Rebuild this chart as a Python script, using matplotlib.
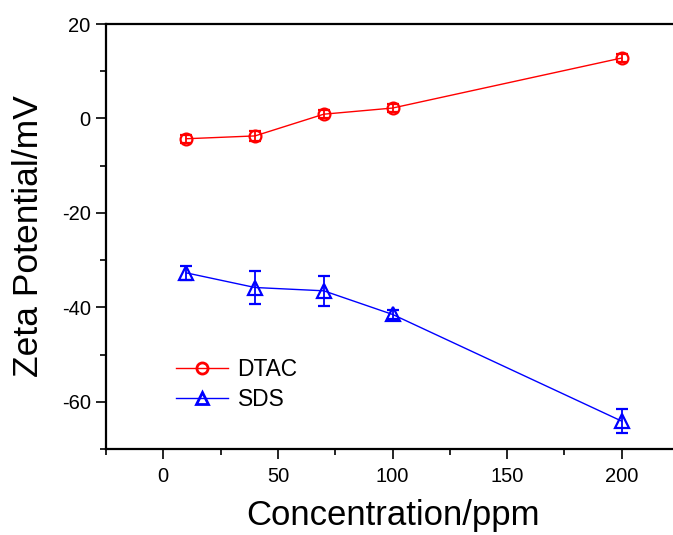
import numpy as np
import matplotlib
matplotlib.use("Agg")
import matplotlib.pyplot as plt
from matplotlib.ticker import MultipleLocator
from matplotlib.lines import Line2D

plt.rcParams['font.family'] = ['Liberation Sans', 'DejaVu Sans']
plt.rcParams['axes.unicode_minus'] = False

conc = [10, 40, 70, 100, 200]
dtac = [-4.3, -3.7, 0.9, 2.2, 12.8]
dtac_err = [0.9, 1.0, 0.9, 0.9, 0.9]
sds = [-32.7, -35.8, -36.5, -41.5, -64.1]
sds_err = [1.5, 3.5, 3.2, 1.0, 2.5]

fig = plt.figure(figsize=(6.73, 5.35), dpi=100)
ax = fig.add_axes([106/673, 1-449/535, 573/673, 425/535])

ax.errorbar(conc, dtac, yerr=dtac_err, color='red', marker='o', ms=8.5,
            mfc='none', mew=1.6, lw=1, elinewidth=1.3, capsize=4, capthick=1.3)
ax.errorbar(conc, sds, yerr=sds_err, color='blue', marker='^', ms=10,
            mfc='none', mew=1.6, lw=1, elinewidth=1.3, capsize=4, capthick=1.3)

ax.set_xlim(-25, 225)
ax.set_ylim(-70, 20)
ax.xaxis.set_major_locator(MultipleLocator(50))
ax.xaxis.set_minor_locator(MultipleLocator(25))
ax.yaxis.set_major_locator(MultipleLocator(20))
ax.yaxis.set_minor_locator(MultipleLocator(10))
ax.tick_params(which='both', direction='out', width=1.2, top=False, right=False)
ax.tick_params(which='major', length=7, labelsize=14.5)
ax.tick_params(axis='x', which='major', pad=6)
ax.tick_params(axis='y', which='major', pad=4)
ax.tick_params(which='minor', length=4)
for s in ax.spines.values():
    s.set_linewidth(1.6)

ax.set_xlabel('Concentration/ppm', fontsize=25, labelpad=9)
ax.set_ylabel('Zeta Potential/mV', fontsize=25.5, labelpad=12)

# legend without frame, bottom left, plain line+marker handles
handles = [
    Line2D([], [], color='red', marker='o', ms=8, mfc='none', mew=2, lw=1),
    Line2D([], [], color='blue', marker='^', ms=9, mfc='none', mew=2, lw=1),
]
ax.legend(handles, ['DTAC', 'SDS'], loc='upper left',
          bbox_to_anchor=(176/673, 1-358/535),
          bbox_transform=fig.transFigure, frameon=False, fontsize=16.4,
          handlelength=2.3, handletextpad=0.4, labelspacing=0.3,
          borderaxespad=0, borderpad=0)

fig.savefig('out.png', dpi=100)
